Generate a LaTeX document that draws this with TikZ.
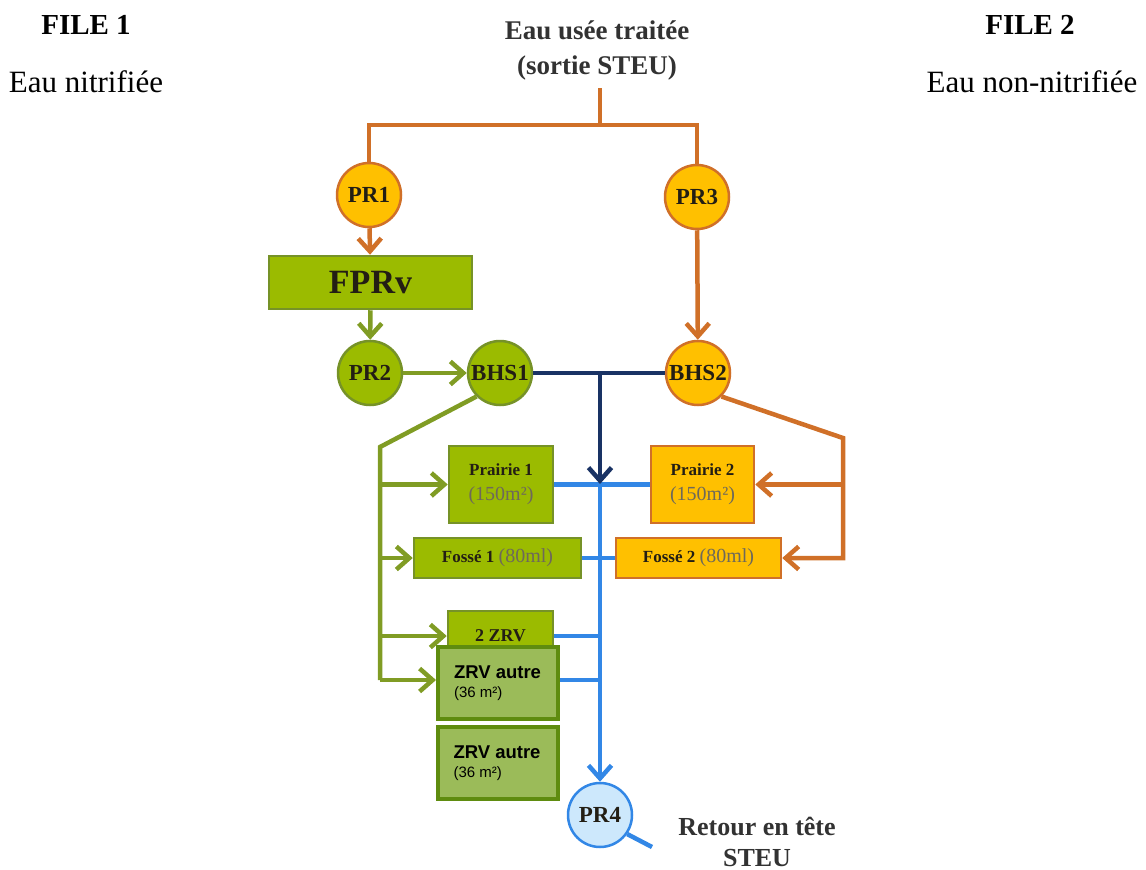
\documentclass[tikz,border=0pt]{standalone}
\usepackage{fontspec}
\setmainfont{Liberation Serif}
\newfontfamily\arialfont{Liberation Sans}
\usetikzlibrary{arrows.meta}

\definecolor{orline}{RGB}{208,112,40}
\definecolor{orfill}{RGB}{255,192,0}
\definecolor{grfill}{RGB}{155,187,0}
\definecolor{grline}{RGB}{128,156,36}
\definecolor{grdraw}{RGB}{118,146,40}
\definecolor{zrvfill}{RGB}{155,187,89}
\definecolor{zrvdraw}{RGB}{95,140,15}
\definecolor{navy}{RGB}{25,50,100}
\definecolor{skyline}{RGB}{50,135,230}
\definecolor{skyfill}{RGB}{205,232,252}
\definecolor{ink}{RGB}{35,30,20}
\definecolor{softink}{RGB}{110,105,90}
\definecolor{titleink}{RGB}{50,50,50}

\begin{document}
\begin{tikzpicture}[x=1pt,y=-1pt,
  tip/.style={-{Straight Barb[length=13pt,width=23pt]}},
  pipe/.style={line width=4.5pt},
  pump/.style={circle,minimum size=64pt,inner sep=0pt,line width=2.5pt,text=ink,
    font=\fontsize{23}{25}\selectfont\bfseries},
  orpump/.style={pump,draw=orline,fill=orfill},
  grpump/.style={pump,draw=grdraw,fill=grfill},
  tank/.style={rectangle,inner sep=0pt,line width=2.5pt,text=ink,align=center},
  grtank/.style={tank,draw=grdraw,fill=grfill},
  ortank/.style={tank,draw=orline,fill=orfill},
  zrvtank/.style={tank,draw=zrvdraw,fill=zrvfill,line width=4pt,
    minimum width=120pt,minimum height=72pt,text=black,
    font=\arialfont\fontsize{18.5}{21}\selectfont},
  head/.style={font=\fontsize{29}{32}\selectfont\bfseries},
  sub/.style={font=\fontsize{31}{33}\selectfont}
]
\useasboundingbox (0,0) rectangle (1146,870);

% labels of the two lines
\node[head] (file1) at (86,25) {FILE 1};
\node[sub] (nitri) at (86,82) {Eau nitrifiée};
\node[head] (file2) at (1030,25) {FILE 2};
\node[sub] (nonnitri) at (1032,82) {Eau non-nitrifiée};
\node[align=center,text=titleink,font=\fontsize{27}{35}\selectfont\bfseries] (title) at (597,50)
  {Eau usée traitée\\(sortie STEU)};

% pumps and basins
\node[orpump] (PR1) at (369,195) {PR1};
\node[orpump] (PR3) at (697,197) {PR3};
\node[grtank,minimum width=203pt,minimum height=53pt,font=\fontsize{34}{36}\selectfont\bfseries]
  (FPRv) at (370.5,282.5) {FPRv};
\node[grpump] (PR2) at (370,373) {PR2};
\node[grpump] (BHS1) at (500,373) {BHS1};
\node[orpump] (BHS2) at (698,373) {BHS2};

% test plots
\node[grtank,minimum width=104pt,minimum height=77pt,font=\fontsize{17}{25}\selectfont]
  (Prairie1) at (501,484.5) {\textbf{Prairie 1}\\{\color{softink}\fontsize{20}{22}\selectfont(150m²)}};
\node[ortank,minimum width=103pt,minimum height=77pt,font=\fontsize{17}{25}\selectfont]
  (Prairie2) at (702.5,484.5) {\textbf{Prairie 2}\\{\color{softink}\fontsize{20}{22}\selectfont(150m²)}};
\node[grtank,minimum width=167pt,minimum height=40pt,font=\fontsize{17}{20}\selectfont]
  (Fosse1) at (497.5,558) {\textbf{Fossé 1} {\color{softink}\fontsize{20}{20}\selectfont(80ml)}};
\node[ortank,minimum width=165pt,minimum height=40pt,font=\fontsize{17}{20}\selectfont]
  (Fosse2) at (698.5,558) {\textbf{Fossé 2} {\color{softink}\fontsize{20}{20}\selectfont(80ml)}};
\node[grtank,minimum width=105pt,minimum height=50pt,font=\fontsize{18}{20}\selectfont\bfseries]
  (ZRV2) at (500.5,636) {2 ZRV};
\node[zrvtank] (ZRVa) at (498,683)
  {\parbox{88pt}{\textbf{ZRV autre}\\[-2pt]{\fontsize{15}{17}\selectfont(36 m²)}}};
\node[zrvtank] (ZRVb) at (497.5,763)
  {\parbox{88pt}{\textbf{ZRV autre}\\[-2pt]{\fontsize{15}{17}\selectfont(36 m²)}}};
\node[pump,draw=skyline,fill=skyfill] (PR4) at (600,815) {PR4};
\node[align=center,text=titleink,font=\fontsize{26}{31}\selectfont\bfseries] (retour) at (757,842)
  {Retour en tête\\STEU};

% bends of the pipes
\coordinate (src) at (600,88);
\coordinate (split) at (600,125);
\coordinate (gbend) at (380,447);
\coordinate (gend) at (380,680);
\coordinate (obend) at (843,438);
\coordinate (oend) at (843,558);
\coordinate (njoin) at (600,373);
\coordinate (bjoin) at (600,484);
\coordinate (tail) at (652,847);

% feed
\draw[pipe,orline] (src) -- (split);
\draw[pipe,orline] (PR1.north) |- (split) -| (PR3.north);
\draw[pipe,orline,tip] (PR1) -- (FPRv);
\draw[pipe,orline,tip] (PR3) -- (BHS2);
\draw[pipe,grline,tip] (FPRv) -- (PR2);
\draw[pipe,grline,tip] (PR2) -- (BHS1);

% line 1 (green)
\draw[pipe,grline] (BHS1.225) -- (gbend) -- (gend);
\draw[pipe,grline,tip] (gbend |- Prairie1.west) -- (Prairie1.west);
\draw[pipe,grline,tip] (gbend |- Fosse1.west) -- (Fosse1.west);
\draw[pipe,grline,tip] (gbend |- ZRV2.west) -- (ZRV2.west);
\draw[pipe,grline,tip] (gend) -- (gend -| ZRVa.west);

% line 2 (orange)
\draw[pipe,orline,tip] (BHS2.-45) -- (obend) -- (oend) -- (Fosse2.east);
\draw[pipe,orline,tip] (obend |- Prairie2.east) -- (Prairie2.east);

% return
\draw[pipe,skyline] (Prairie1.east) -- (Prairie2.west);
\draw[pipe,skyline] (Fosse1.east) -- (Fosse2.west);
\draw[pipe,skyline] (ZRV2.east) -- (ZRV2.east -| bjoin);
\draw[pipe,skyline] (ZRVa.east |- gend) -- (gend -| bjoin);
\draw[pipe,skyline,tip] (bjoin) -- (PR4.north);
\draw[pipe,skyline] (PR4.-35) -- (tail);
\draw[pipe,navy] (BHS1.east) -- (BHS2.west);
\draw[pipe,navy,tip] (njoin) -- (bjoin);
\end{tikzpicture}
\end{document}
